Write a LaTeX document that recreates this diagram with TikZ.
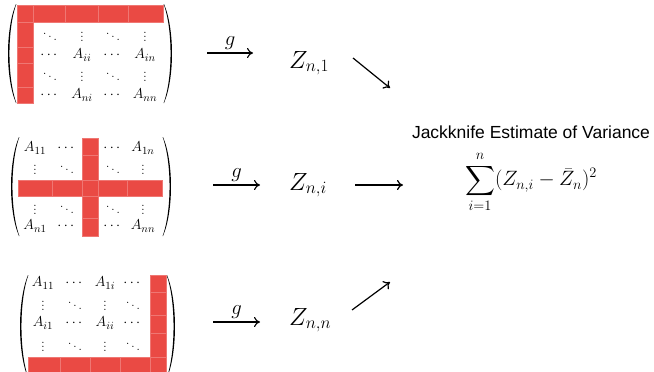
\documentclass[tikz,border=0pt]{standalone}
\usepackage{fontspec}
\newfontfamily\headfont{Liberation Sans}
\usepackage{amsmath}
\usetikzlibrary{arrows.meta,positioning}
\definecolor{jkRed}{RGB}{234,74,68}
% parentheses: end x, top y, bottom y, bulge
\newcommand{\lpar}[4]{\fill ({#1},{#2}) .. controls ({#1-1.33*#4},{#2+0.25*(#3-#2)}) and ({#1-1.33*#4},{#3-0.25*(#3-#2)}) .. ({#1},{#3})
  -- ({#1+0.4},{#3}) .. controls ({#1-1.33*#4+1.8},{#3-0.25*(#3-#2)}) and ({#1-1.33*#4+1.8},{#2+0.25*(#3-#2)}) .. ({#1+0.4},{#2}) -- cycle;}
\newcommand{\rpar}[4]{\fill ({#1},{#2}) .. controls ({#1+1.33*#4},{#2+0.25*(#3-#2)}) and ({#1+1.33*#4},{#3-0.25*(#3-#2)}) .. ({#1},{#3})
  -- ({#1-0.4},{#3}) .. controls ({#1+1.33*#4-1.8},{#3-0.25*(#3-#2)}) and ({#1+1.33*#4-1.8},{#2+0.25*(#3-#2)}) .. ({#1-0.4},{#2}) -- cycle;}

\begin{document}
\begin{tikzpicture}[x=1pt,y=-1pt,
    cell/.style={fill=jkRed, draw=jkRed!75!white, line width=0.4pt},
    entry/.style={font=\fontsize{15}{17}\selectfont, inner sep=0pt},
    zlab/.style={font=\fontsize{26}{30}\selectfont, anchor=base west, inner sep=0pt},
    glab/.style={font=\fontsize{22}{24}\selectfont, above=3pt, inner sep=0pt},
    gmap/.style={-{To[length=6pt,width=10pt]}, line width=1.1pt},
    jkarrow/.style={-{To[length=6pt,width=10pt]}, line width=1.2pt},
    headlab/.style={font=\headfont\fontsize{17.5}{20}\selectfont, inner sep=0pt},
    formula/.style={font=\fontsize{21.5}{26}\selectfont, inner sep=0pt}
  ]
  \useasboundingbox (0,0) rectangle (654,372);

  % Matrix 1: first row and column left out
  \lpar{16}{4}{103}{8}
  \rpar{164}{4}{103}{8}
  \foreach \xa/\xb in {17/33,33/65,65/98,98/128,128/163}
    \draw[cell] (\xa,5) rectangle (\xb,22);
  \foreach \ya/\yb in {22/47,47/63,63/87,87/103}
    \draw[cell] (17,\ya) rectangle (33,\yb);
  \foreach \e/\x [count=\c] in {\ddots/50,\vdots/82,\ddots/113,\vdots/145}
    \node[entry] (pa1\c) at (\x,34) {$\e$};
  \foreach \e/\x [count=\c] in {\cdots/50,A_{ii}/82,\cdots/113,A_{in}/145}
    \node[entry] (pa2\c) at (\x,55) {$\e$};
  \foreach \e/\x [count=\c] in {\ddots/50,\vdots/82,\ddots/113,\vdots/145}
    \node[entry] (pa3\c) at (\x,74) {$\e$};
  \foreach \e/\x [count=\c] in {\cdots/50,A_{ni}/82,\cdots/113,A_{nn}/145}
    \node[entry] (pa4\c) at (\x,95) {$\e$};

  % Matrix 2: row and column i left out
  \lpar{19}{137}{236}{8}
  \rpar{163}{137}{236}{8}
  \foreach \xa/\xb in {18/52,52/82,82/98,98/127,127/162}
    \draw[cell] (\xa,180) rectangle (\xb,196);
  \foreach \ya/\yb in {138/155,155/180,196/218,218/236}
    \draw[cell] (82,\ya) rectangle (98,\yb);
  \foreach \e/\x [count=\c] in {A_{11}/35,\cdots/67,\cdots/113,A_{1n}/143}
    \node[entry] (pb1\c) at (\x,148) {$\e$};
  \foreach \e/\x [count=\c] in {\vdots/35,\ddots/67,\ddots/113,\vdots/143}
    \node[entry] (pb2\c) at (\x,167) {$\e$};
  \foreach \e/\x [count=\c] in {\vdots/35,\ddots/67,\ddots/113,\vdots/143}
    \node[entry] (pb3\c) at (\x,207) {$\e$};
  \foreach \e/\x [count=\c] in {A_{n1}/35,\cdots/67,\cdots/113,A_{nn}/143}
    \node[entry] (pb4\c) at (\x,226) {$\e$};

  % Matrix 3: last row and column left out
  \lpar{28}{275}{378}{8}
  \rpar{167}{275}{378}{8}
  \foreach \xa/\xb in {28/60,60/90,90/120,120/150,150/166}
    \draw[cell] (\xa,357) rectangle (\xb,373);
  \foreach \ya/\yb in {275/292,292/315,315/333,333/357}
    \draw[cell] (150,\ya) rectangle (166,\yb);
  \foreach \e/\x [count=\c] in {A_{11}/43,\cdots/75,A_{1i}/105,\cdots/133}
    \node[entry] (pc1\c) at (\x,283) {$\e$};
  \foreach \e/\x [count=\c] in {\vdots/43,\ddots/75,\vdots/105,\ddots/133}
    \node[entry] (pc2\c) at (\x,303) {$\e$};
  \foreach \e/\x [count=\c] in {A_{i1}/43,\cdots/75,A_{ii}/105,\cdots/133}
    \node[entry] (pc3\c) at (\x,323) {$\e$};
  \foreach \e/\x [count=\c] in {\vdots/43,\ddots/75,\vdots/105,\ddots/133}
    \node[entry] (pc4\c) at (\x,344) {$\e$};

  % g maps
  \coordinate (g1s) at (207,53);  \coordinate (g1e) at (253,53);
  \coordinate (g2s) at (213,185); \coordinate (g2e) at (260,185);
  \coordinate (g3s) at (213,322); \coordinate (g3e) at (260,322);
  \draw[gmap] (g1s) -- node[glab] (g1) {$g$} (g1e);
  \draw[gmap] (g2s) -- node[glab] (g2) {$g$} (g2e);
  \draw[gmap] (g3s) -- node[glab] (g3) {$g$} (g3e);

  \node[zlab] (z1) at (289,68) {$Z_{n,1}$};
  \node[zlab] (zi) at (289,190) {$Z_{n,i}$};
  \node[zlab] (zn) at (289,325) {$Z_{n,n}$};

  % jackknife estimate
  \node[headlab] (title) at (531,132) {Jackknife Estimate of Variance};
  \node[formula] (jk) at (531,182) {$\displaystyle\sum_{i=1}^{n}(Z_{n,i}-\bar{Z}_n)^2$};

  \coordinate (d1s) at (353,58);  \coordinate (d1e) at (390,88);
  \coordinate (d2s) at (355,185); \coordinate (d2e) at (403,185);
  \coordinate (d3s) at (352,310); \coordinate (d3e) at (390,282);
  \draw[jkarrow] (d1s) -- (d1e);
  \draw[jkarrow] (d2s) -- (d2e);
  \draw[jkarrow] (d3s) -- (d3e);
\end{tikzpicture}
\end{document}
